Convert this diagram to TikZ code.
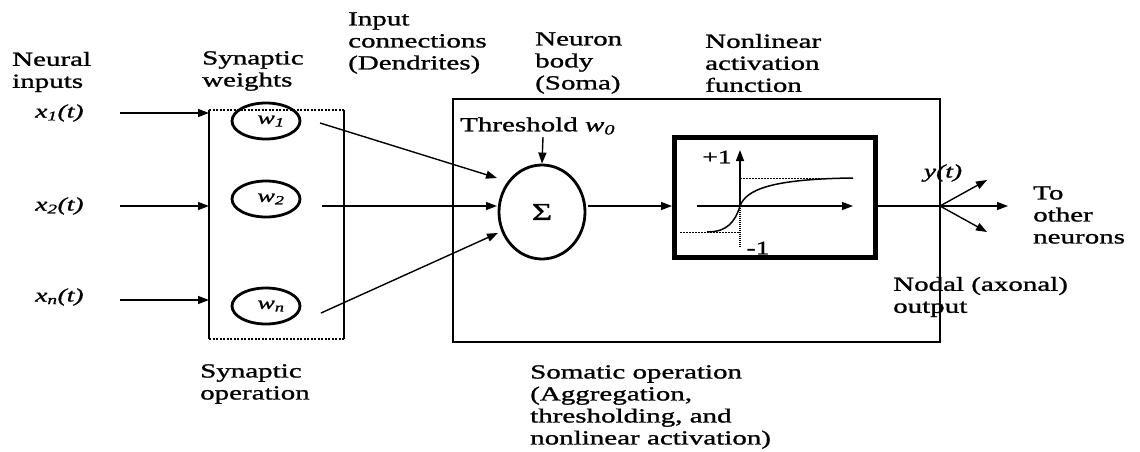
\documentclass[tikz,border=0pt]{standalone}
\usepackage{fontspec}
\setmainfont{Liberation Serif}[FakeStretch=1.45,FakeBold=1.2]
\usetikzlibrary{arrows.meta,shapes.geometric}
\begin{document}
\begin{tikzpicture}[x=1pt,y=-1pt,
  lbl/.style={font=\fontsize{20}{22}\selectfont, align=left, inner sep=0pt, anchor=west},
  var/.style={font=\fontsize{19}{20}\selectfont\itshape, inner sep=0pt, anchor=west},
  wnode/.style={draw, ellipse, line width=2.8pt, minimum width=68pt, minimum height=36pt, inner sep=0pt, font=\fontsize{18}{18}\selectfont\itshape},
  ln/.style={line width=1.4pt},
  arr/.style={ln, -{Triangle[length=11pt,width=8pt]}},
  dotl/.style={line width=1.4pt, dash pattern=on 2pt off 1.5pt},
  thindot/.style={line width=0.9pt, dash pattern=on 1.5pt off 1.5pt}
]
\useasboundingbox (0,0) rectangle (1140,452);

% ---- labels
\node[lbl] (neural) at (12,72) {Neural\\inputs};
\node[lbl] (synw) at (202,71) {Synaptic\\weights};
\node[lbl] (dend) at (348,43) {Input\\connections\\(Dendrites)};
\node[lbl] (body) at (535,63) {Neuron\\body\\(Soma)};
\node[lbl] (nonlin) at (705,63) {Nonlinear\\activation\\function};
\node[lbl] (thr) at (460,126) {Threshold {\itshape w\textsubscript{0}}};
\node[lbl] (other) at (1033,215) {To\\other\\neurons};
\node[lbl] (nodal) at (893,297) {Nodal (axonal)\\output};
\node[lbl] (synop) at (200,384) {Synaptic\\operation};
\node[lbl] (somop) at (530,407) {Somatic operation\\(Aggregation,\\thresholding, and\\nonlinear activation)};

\node[var] (x1) at (35,113) {x\textsubscript{1}(t)};
\node[var] (x2) at (35,206) {x\textsubscript{2}(t)};
\node[var] (xn) at (35,297) {x\textsubscript{n}(t)};

% ---- synaptic box
\coordinate (sA) at (209,110);
\coordinate (sB) at (344,110);
\coordinate (sC) at (344,339);
\coordinate (sD) at (209,339);
\draw[ln] (sA) -- (sD);
\draw[ln] (sB) -- (sC);
\draw[dotl] (sA) -- (sB);
\draw[dotl] (sD) -- (sC);

\node[wnode] (w1) at (266,121) {\hspace{10pt}w\textsubscript{1}};
\node[wnode] (w2) at (266,199) {\hspace{10pt}w\textsubscript{2}};
\node[wnode] (w3) at (266,306) {\hspace{10pt}w\textsubscript{n}};

% ---- input arrows
\coordinate (i1) at (120,113);
\coordinate (i2) at (120,206);
\coordinate (i3) at (120,300);
\draw[arr] (i1) -- (i1 -| sA);
\draw[arr] (i2) -- (i2 -| sA);
\draw[arr] (i3) -- (i3 -| sA);

% ---- soma box
\node[draw, line width=1.4pt, minimum width=487pt, minimum height=243pt, inner sep=0pt] (soma) at (696.5,220.5) {};

% ---- summation
\node[draw, ellipse, line width=2.8pt, minimum width=86pt, minimum height=94pt, inner sep=0pt, font=\fontsize{24}{24}\selectfont] (sum) at (542,212) {Σ};

\coordinate (th) at (543,137);
\draw[arr] (th) -- (sum.north);

\coordinate (d1s) at (320,123);
\coordinate (d1e) at (497,178);
\coordinate (d2s) at (322,206);
\coordinate (d2e) at (497,206);
\coordinate (d3s) at (321,313);
\coordinate (d3e) at (498,233);
\draw[arr] (d1s) -- (d1e);
\draw[arr] (d2s) -- (d2e);
\draw[arr] (d3s) -- (d3e);

% ---- activation box
\node[draw, line width=5pt, minimum width=201pt, minimum height=120pt, inner sep=0pt] (act) at (775,197.5) {};
\coordinate (s1) at (588,206);
\draw[arr] (s1) -- (s1 -| act.west);

\coordinate (hx0) at (697,206);
\coordinate (hx1) at (853,206);
\draw[arr] (hx0) -- (hx1);
\coordinate (org) at (740,206);
\coordinate (vy1) at (740,150);
\coordinate (vy0) at (740,247);
\draw[arr] (org) -- (vy1);
\draw[line width=2pt, dash pattern=on 1pt off 1pt] (org) -- (vy0);
\coordinate (tp0) at (740,178);
\coordinate (tp1) at (853,178);
\coordinate (bt0) at (680,232);
\coordinate (bt1) at (740,232);
\draw[thindot] (tp0) -- (tp1);
\draw[thindot] (bt0) -- (bt1);
\draw[line width=1.5pt] (707,232) .. controls (727,232) and (735,222) .. (org)
  .. controls (746,190) and (770,179) .. (853,178);
\node[font=\fontsize{19}{19}\selectfont, inner sep=0pt] (p1) at (717,157) {+1};
\node[font=\fontsize{19}{19}\selectfont, inner sep=0pt] (m1) at (758,248) {-1};

% ---- output
\coordinate (j) at (940,206);
\draw[ln] (act.east |- j) -- (j);
\coordinate (o1) at (987,180);
\coordinate (o2) at (1008,206);
\coordinate (o3) at (987,232);
\draw[arr] (j) -- (o1);
\draw[arr] (j) -- (o2);
\draw[arr] (j) -- (o3);
\node[var, anchor=center] (y) at (943,173) {y(t)};
\end{tikzpicture}
\end{document}
